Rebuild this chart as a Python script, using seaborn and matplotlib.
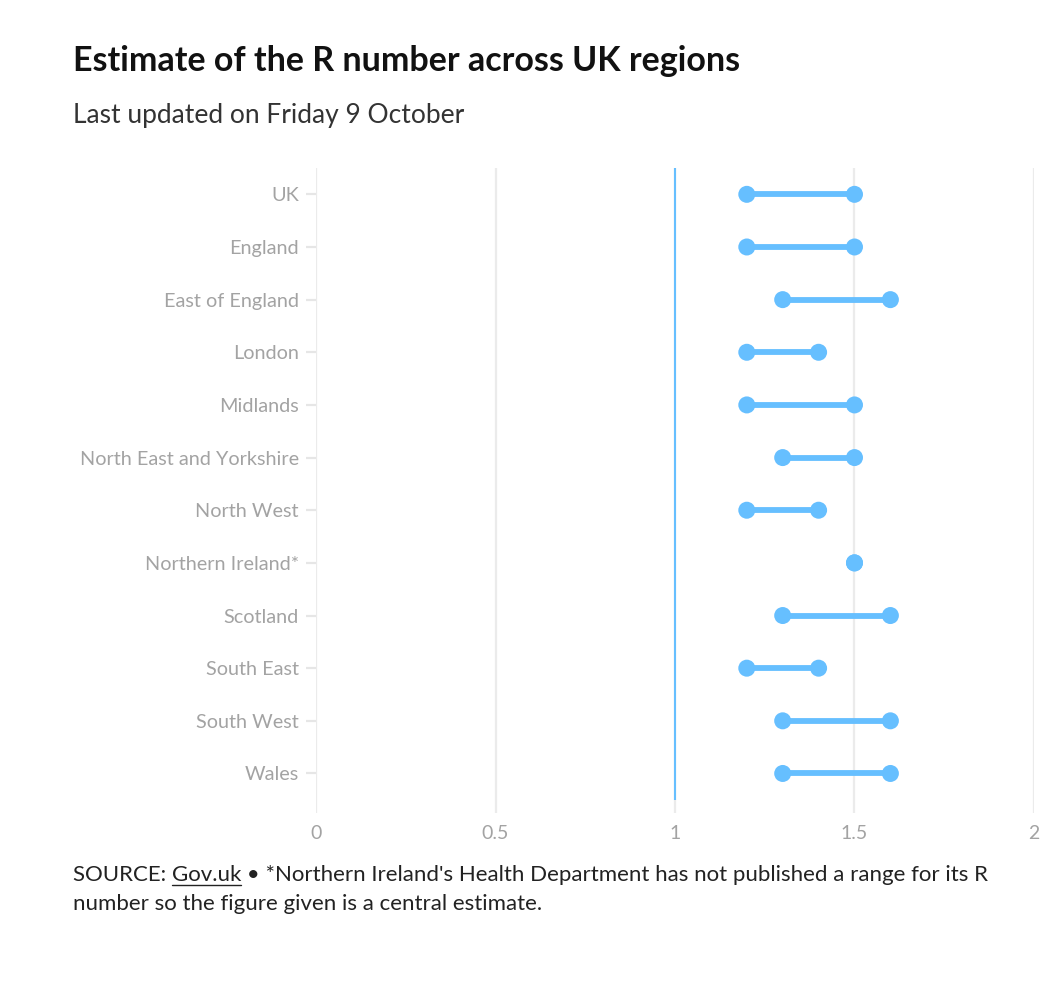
import pandas as pd
import seaborn as sns
import matplotlib.pyplot as plt

# R number ranges per region (low, high)
regions = ['UK', 'England', 'East of England', 'London', 'Midlands',
           'North East and Yorkshire', 'North West', 'Northern Ireland*',
           'Scotland', 'South East', 'South West', 'Wales']
r_low = [1.2, 1.2, 1.3, 1.2, 1.2, 1.3, 1.2, 1.5, 1.3, 1.2, 1.3, 1.3]
r_high = [1.5, 1.5, 1.6, 1.4, 1.5, 1.5, 1.4, 1.5, 1.6, 1.4, 1.6, 1.6]
x_ticks = [0, 0.5, 1, 1.5, 2]
x_labels = ['0', '0.5', '1', '1.5', '2']

blue = '#66bfff'
grey_text = '#a3a3a3'

sns.set_theme(style='white')
plt.rcParams['font.family'] = ['Lato', 'DejaVu Sans']

df = pd.DataFrame({'region': regions, 'low': r_low, 'high': r_high})
pos = list(range(len(regions)))
long_df = pd.DataFrame({'pos': pos + pos, 'value': r_low + r_high})

fig = plt.figure(figsize=(10.58, 9.86), dpi=100, facecolor='white')
ax = fig.add_axes([0.2987, 0.1755, 0.9773 - 0.2987, 0.8296 - 0.1755])

# range bars and end dots
ax.hlines(pos, df['low'], df['high'], color=blue, linewidth=4.2, zorder=3)
sns.scatterplot(data=long_df, x='value', y='pos', color=blue, s=150,
                edgecolor='none', zorder=4, ax=ax, legend=False)

# reference line at R = 1
ax.vlines(1, -0.5, len(regions) - 0.5, color=blue, linewidth=1.5, zorder=2)

ax.set_xlim(0, 2)
ax.set_ylim(len(regions) - 0.25, -0.5)
ax.set_xticks(x_ticks)
ax.set_xticklabels(x_labels)
ax.set_yticks(pos)
ax.set_yticklabels(regions)
ax.set_xlabel('')
ax.set_ylabel('')

ax.grid(axis='x', color='#ebebeb', linewidth=1.6, zorder=0)
ax.grid(axis='y', visible=False)
for s in ax.spines.values():
    s.set_visible(False)
ax.tick_params(axis='x', length=0, pad=9, labelsize=14, labelcolor=grey_text)
ax.tick_params(axis='y', left=True, length=7, width=1.6, color='#e6e6e6',
               pad=5.5, labelsize=14.3, labelcolor=grey_text)

# titles
fig.text(73 / 1058, 1 - 61 / 986, 'Estimate of the R number across UK regions',
         fontsize=24.5, fontweight='bold', color='#111111', va='center', ha='left')
fig.text(73 / 1058, 1 - 116 / 986, 'Last updated on Friday 9 October',
         fontsize=19, color='#333333', va='center', ha='left')

# footer with underlined source link
fig.canvas.draw()
renderer = fig.canvas.get_renderer()
fy = 1 - 881 / 986
foot_kw = dict(fontsize=16, color='#222222', va='baseline', ha='left')
t1 = fig.text(73 / 1058, fy, 'SOURCE: ', **foot_kw)
bb1 = t1.get_window_extent(renderer)
x2 = bb1.x1 / fig.bbox.width
t2 = fig.text(x2, fy, 'Gov.uk', **foot_kw)
bb2 = t2.get_window_extent(renderer)
fig.add_artist(plt.Line2D([bb2.x0 / fig.bbox.width, bb2.x1 / fig.bbox.width],
                          [fy - 4 / 986, fy - 4 / 986], color='#222222', linewidth=1))
x3 = bb2.x1 / fig.bbox.width
fig.text(x3, fy, " \u2022 *Northern Ireland's Health Department has not published a range for its R",
         **foot_kw)
fig.text(73 / 1058, fy - 29 / 986, 'number so the figure given is a central estimate.', **foot_kw)

fig.savefig('out.png', dpi=100, facecolor='white')
